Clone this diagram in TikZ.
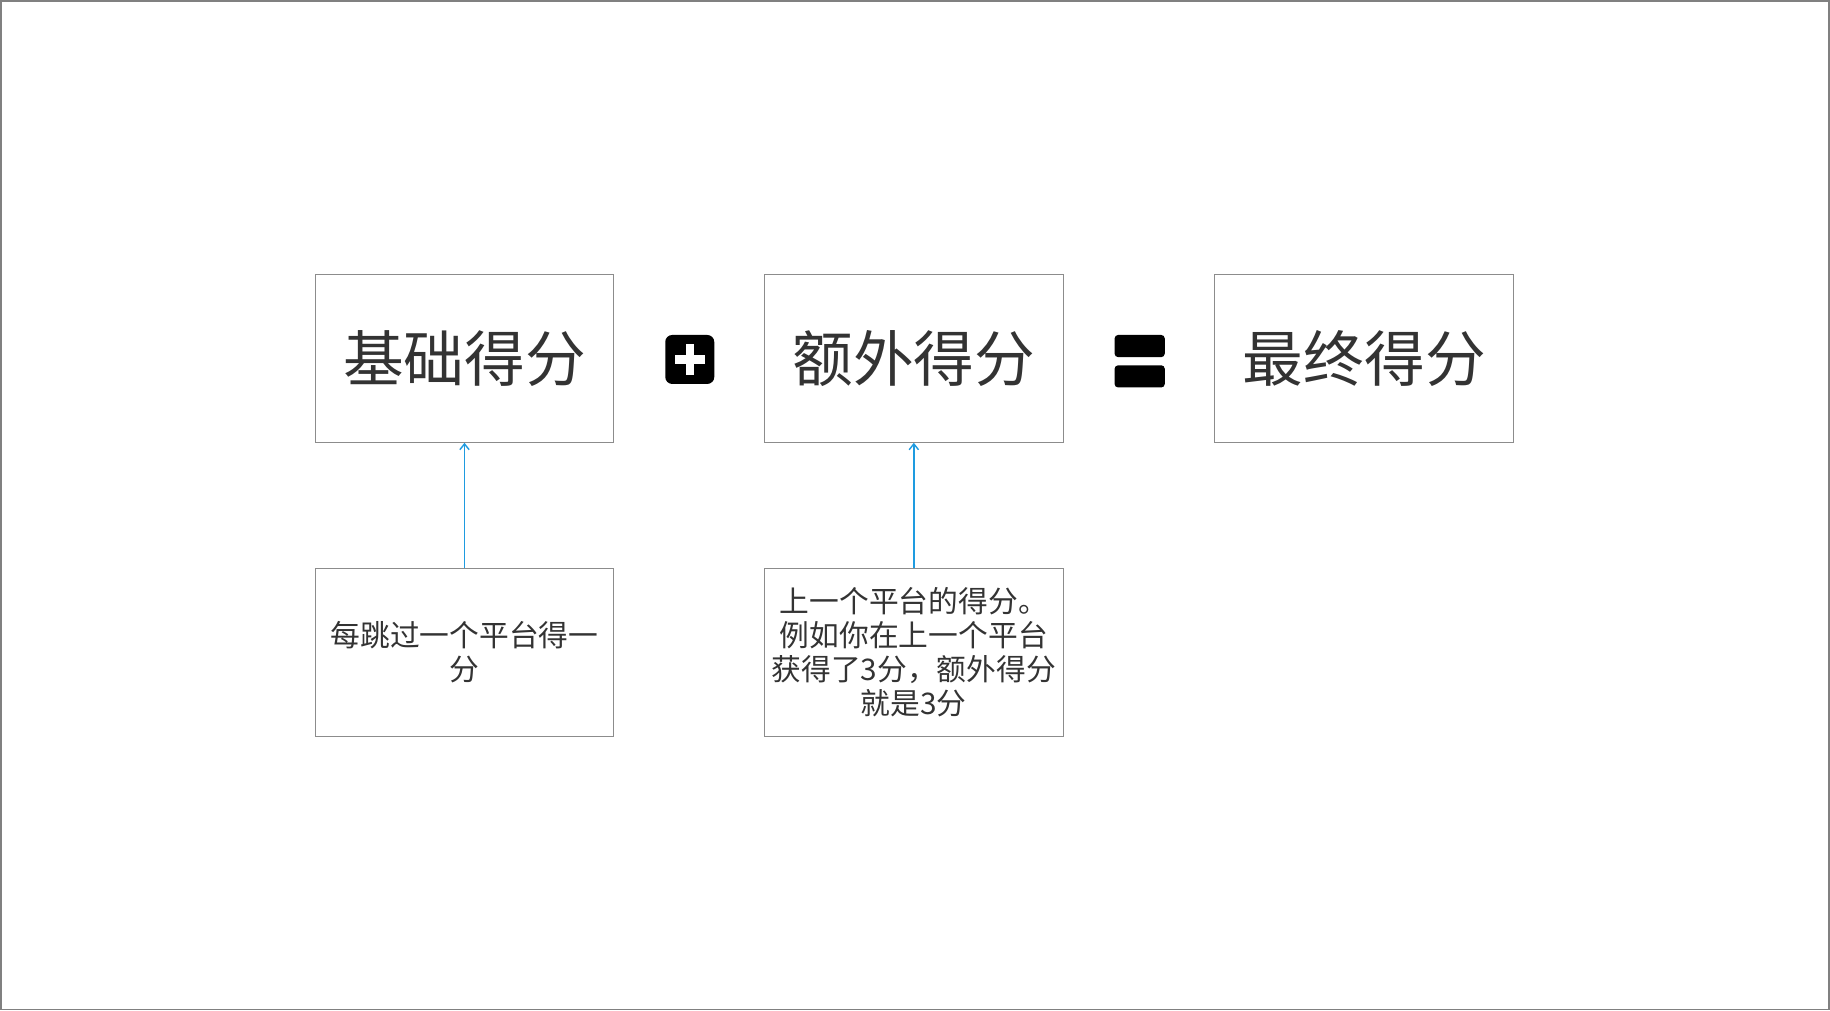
\documentclass[tikz,border=0pt]{standalone}
\usepackage{fontspec}
\setmainfont{Noto Sans CJK SC}
\usetikzlibrary{arrows.meta}
\definecolor{txt}{HTML}{333333}
\definecolor{blu}{HTML}{1E9BE0}
\tikzset{
 box/.style={draw=gray!90,line width=0.8pt,minimum width=256pt,minimum height=144pt,inner sep=0pt,text=txt},
 big/.style={box,font=\fontsize{52}{58}\selectfont},
 small/.style={box,font=\fontsize{25.5}{29}\selectfont,align=center,text width=256pt},
 link/.style={draw=blu,line width=1.2pt,-{Straight Barb[length=5pt,width=8pt]}}
}
\begin{document}
\begin{tikzpicture}[x=1pt,y=-1pt]
\useasboundingbox (0,0) rectangle (1568,866);
\draw[gray,line width=1.5pt] (1,1) rectangle (1567,865);
\node[big] (a) at (398,307) {基础得分};
\node[big] (b) at (783,307) {额外得分};
\node[big] (c) at (1169,307) {最终得分};
\node[small] (d) at (398,559) {每跳过一个平台得一\\分};
\node[small] (e) at (783,559) {上一个平台的得分。\\例如你在上一个平台\\获得了3分，额外得分\\就是3分};
\draw[link] (d.north) -- (a.south);
\draw[link] (e.north) -- (b.south);
\fill[black,rounded corners=6pt] (570,287) rectangle (612,329);
\fill[white] (587.5,295) rectangle (594.5,321);
\fill[white] (578,304.5) rectangle (604,311.5);
\fill[black,rounded corners=3pt] (955,287) rectangle (998,306);
\fill[black,rounded corners=3pt] (955,313) rectangle (998,332);
\end{tikzpicture}
\end{document}
